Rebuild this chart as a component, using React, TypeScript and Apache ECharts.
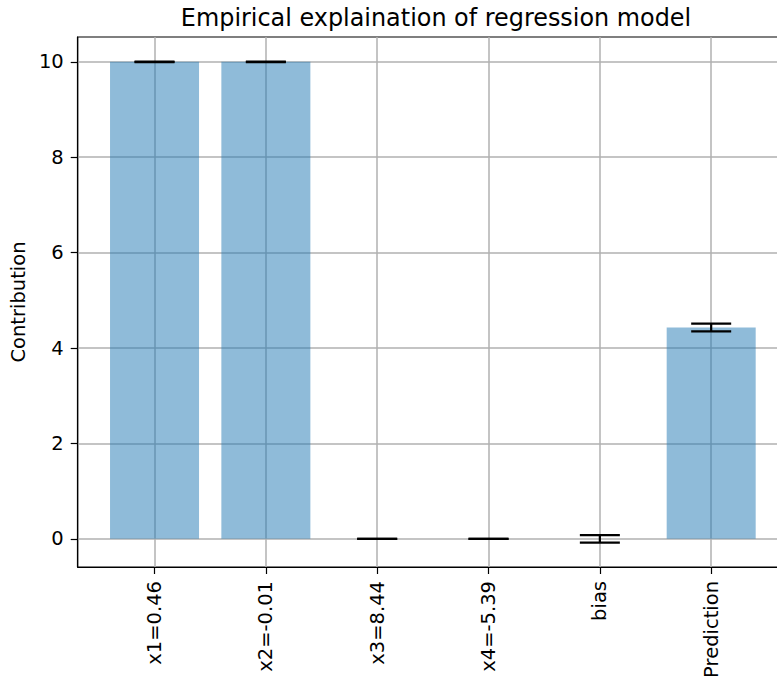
import React, { useEffect, useRef } from "react";
import * as echarts from "echarts";

const categories = ["x1=0.46", "x2=-0.01", "x3=8.44", "x4=-5.39", "bias", "Prediction"];
const contributions = [10, 10, 0, 0, 0, 4.43];
const errors = [0.005, 0.005, 0, 0, 0.08, 0.08];
const yTicks = [0, 2, 4, 6, 8, 10];

const FONT = "DejaVu Sans";

export default function App() {
  const ref = useRef<HTMLDivElement>(null);
  useEffect(() => {
    if (!ref.current) return;
    const chart = echarts.init(ref.current, null, { renderer: "svg" });
    const idx = categories.map((_, i) => i);
    chart.setOption({
      animation: false,
      title: {
        text: "Empirical explaination of regression model",
        left: 431,
        top: 1,
        textAlign: "center",
        textStyle: { fontFamily: FONT, fontSize: 23.9, fontWeight: "normal", color: "#000" },
      },
      grid: {
        left: 77,
        right: 2,
        top: 37,
        bottom: 115,
        show: true,
        borderColor: "#000",
        borderWidth: 1.2,
        backgroundColor: "transparent",
      },
      xAxis: {
        type: "value",
        min: -0.69,
        max: 5.69,
        axisLine: { show: true, onZero: false, lineStyle: { color: "#000", width: 1.2 } },
        axisTick: { show: true, customValues: idx, length: 7, lineStyle: { color: "#000", width: 1.2 } },
        axisLabel: {
          show: true,
          customValues: idx,
          rotate: 90,
          margin: 14,
          fontFamily: FONT,
          fontSize: 19.5,
          color: "#000",
          formatter: (v: number) => categories[Math.round(v)] ?? "",
        },
        splitLine: { show: true, lineStyle: { color: "#b0b0b0", width: 1.5 } },
      },
      yAxis: {
        type: "value",
        min: -0.59,
        max: 10.52,
        name: "Contribution",
        nameLocation: "middle",
        nameGap: 49,
        nameTextStyle: { fontFamily: FONT, fontSize: 19.5, color: "#000" },
        axisLine: { show: true, onZero: false, lineStyle: { color: "#000", width: 1.2 } },
        axisTick: { show: true, customValues: yTicks, length: 7, lineStyle: { color: "#000", width: 1.2 } },
        axisLabel: {
          show: true,
          customValues: yTicks,
          margin: 14,
          fontFamily: FONT,
          fontSize: 19.5,
          color: "#000",
        },
        splitLine: { show: true, lineStyle: { color: "#b0b0b0", width: 1.5 } },
      },
      series: [
        {
          type: "bar",
          barWidth: 89,
          itemStyle: { color: "rgba(31,119,180,0.5)" },
          data: contributions.map((v, i) => [i, v]),
        },
        {
          type: "custom",
          data: contributions.map((v, i) => [i, v, errors[i]]),
          z: 10,
          renderItem: (params: any, api: any) => {
            const x = api.value(0);
            const y = api.value(1);
            const e = api.value(2);
            const top = api.coord([x, y + e]);
            const bot = api.coord([x, y - e]);
            const hw = 20;
            const style = { stroke: "#000", lineWidth: 2.2 };
            return {
              type: "group",
              children: [
                { type: "line", shape: { x1: top[0], y1: top[1], x2: bot[0], y2: bot[1] }, style },
                { type: "line", shape: { x1: top[0] - hw, y1: top[1], x2: top[0] + hw, y2: top[1] }, style },
                { type: "line", shape: { x1: bot[0] - hw, y1: bot[1], x2: bot[0] + hw, y2: bot[1] }, style },
              ],
            };
          },
        },
      ],
    });
    return () => chart.dispose();
  }, []);
  return (
    <div style={{ position: "absolute", left: 0, top: 0, width: 777, height: 682, overflow: "hidden" }}>
      <div ref={ref} style={{ width: 790, height: 682 }} />
    </div>
  );
}
